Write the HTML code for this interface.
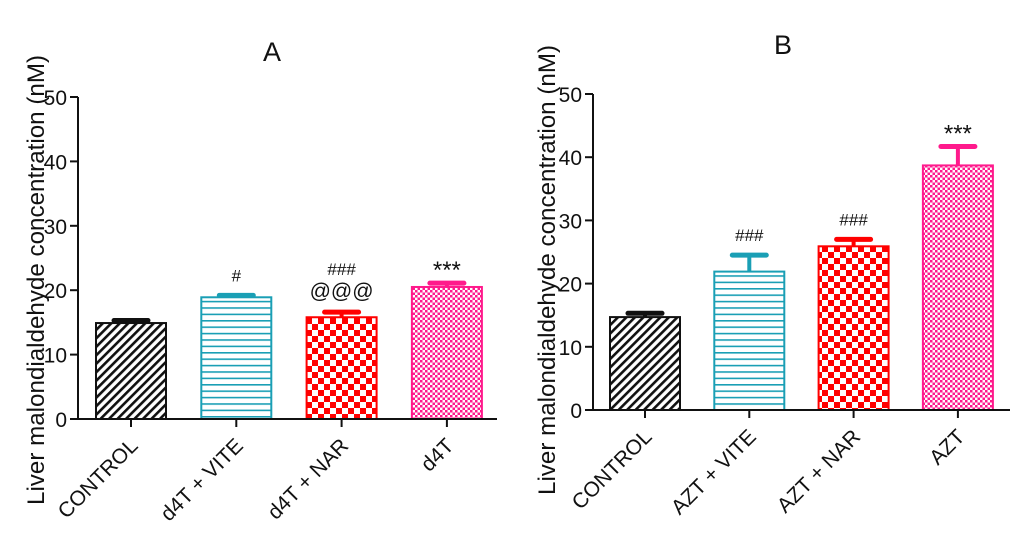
<!DOCTYPE html>
<html><head><meta charset="utf-8"><style>
html,body{margin:0;padding:0;background:#fff;}
svg{display:block;font-family:"Liberation Sans",Arial,sans-serif;}
</style></head><body>
<svg id="chart" width="1024" height="537" viewBox="0 0 1024 537">
<defs>
<pattern id="p-diag" patternUnits="userSpaceOnUse" width="6" height="6" patternTransform="rotate(45)">
<rect width="6" height="6" fill="#fff"/><rect x="0" y="0" width="2.6" height="6" fill="#111"/></pattern>
<pattern id="p-horiz" patternUnits="userSpaceOnUse" width="10" height="6.4">
<rect width="10" height="6.4" fill="#fff"/><rect x="0" y="0" width="10" height="1.6" fill="#1a9fb5"/></pattern>
<pattern id="p-check" patternUnits="userSpaceOnUse" width="12" height="12">
<rect width="12" height="12" fill="#fff"/><rect width="6" height="6" fill="#f00"/><rect x="6" y="6" width="6" height="6" fill="#f00"/></pattern>
<pattern id="p-fine" patternUnits="userSpaceOnUse" width="5" height="5">
<rect width="5" height="5" fill="#fff"/><rect width="2.5" height="2.5" fill="#ff1a8c"/><rect x="2.5" y="2.5" width="2.5" height="2.5" fill="#ff1a8c"/></pattern>
</defs>
</svg>
<script>
const categoriesA = ["CONTROL","d4T + VITE","d4T + NAR","d4T"];
const valuesA = [14.9, 18.9, 15.8, 20.5];
const errorsA = [0.4, 0.3, 0.8, 0.6];
const marksA = ["", "#", "###\n@@@", "***"];
const categoriesB = ["CONTROL","AZT + VITE","AZT + NAR","AZT"];
const valuesB = [14.7, 21.9, 25.9, 38.7];
const errorsB = [0.6, 2.6, 1.1, 3.0];
const marksB = ["", "###", "###", "***"];
const yTicks = [0,10,20,30,40,50];

const NS="http://www.w3.org/2000/svg";
const svg=document.getElementById('chart');
const fills=["url(#p-diag)","url(#p-horiz)","url(#p-check)","url(#p-fine)"];
const strokes=["#111","#1a9fb5","#f00","#ff1a8c"];
function el(tag,attrs,parent){const e=document.createElementNS(NS,tag);for(const k in attrs)e.setAttribute(k,attrs[k]);(parent||svg).appendChild(e);return e;}

function panel(cfg){
  const g=el('g',{});
  
  
  const y=v=>cfg.y0-(v/50)*(cfg.y0-cfg.y50);
  const bw=70, step=cfg.step;
  const xc=i=>cfg.x0+cfg.first+i*step;
  const t=el('text',{x:cfg.titleX,y:cfg.titleY,'font-size':27,'text-anchor':'middle',fill:'#111'},g);
  t.textContent=cfg.title;
  
  
  const yl=el('text',{x:0,y:0,'font-size':24,'text-anchor':'middle',fill:'#111',textLength:450,lengthAdjust:'spacingAndGlyphs',transform:`translate(${cfg.ylX},${cfg.ylY}) rotate(-90)`},g);
  yl.textContent="Liver malondialdehyde concentration (nM)";
  
  
  cfg.values.forEach((v,i)=>{
    const cx=xc(i), top=y(v), et=y(v+cfg.errors[i]);
    const eb=el('line',{x1:cx,x2:cx,y1:top,y2:et,stroke:strokes[i],'stroke-width':4},g);
    
    
    const cap=el('line',{x1:cx-17,x2:cx+17,y1:et,y2:et,stroke:strokes[i],'stroke-width':5,'stroke-linecap':'round'},g);
    
    
    const r=el('rect',{x:cx-bw/2,y:top,width:bw,height:cfg.y0-top,fill:fills[i],stroke:strokes[i],'stroke-width':2},g);
    
    
    const lines=cfg.marks[i].split("\n");
    lines.forEach((m,j)=>{
      if(!m)return;
      const fs=m==="***"?24:(m[0]==="@"?21:17);
      const ty=et-14-(lines.length-1-j)*23;
      const mt=el('text',{x:cx,y:ty+(m==="***"?9:0),'font-size':fs,'text-anchor':'middle',fill:'#111'},g);
      mt.textContent=m;
      
      
    });
    const tk=el('line',{x1:cx,x2:cx,y1:cfg.y0,y2:cfg.y0+8,stroke:'#111','stroke-width':2},g);
    
    
    const lb=el('text',{x:0,y:0,'font-size':21,'text-anchor':'end',fill:'#111',transform:`translate(${cx+8},${cfg.y0+28}) rotate(-45)`},g);
    lb.textContent=cfg.categories[i];
    
    
  });
  const ya=el('line',{x1:cfg.x0,x2:cfg.x0,y1:cfg.y50,y2:cfg.y0+1,stroke:'#111','stroke-width':2},g);
  
  
  const xa=el('line',{x1:cfg.x0-1,x2:cfg.xEnd,y1:cfg.y0,y2:cfg.y0,stroke:'#111','stroke-width':2},g);
  
  
  yTicks.forEach(v=>{
    const ty=y(v);
    const tl=el('line',{x1:cfg.x0-8,x2:cfg.x0,y1:ty,y2:ty,stroke:'#111','stroke-width':2},g);
    
    
    const tt=el('text',{x:cfg.x0-11,y:ty+8,'font-size':21,'text-anchor':'end',fill:'#111'},g);
    tt.textContent=v;
    
    
  });
}
panel({name:'panel-a',title:'A',titleX:272,titleY:61,x0:78,xEnd:497,y0:419,y50:97,first:53,step:105.3,
  ylX:44,ylY:280,categories:categoriesA,values:valuesA,errors:errorsA,marks:marksA});
panel({name:'panel-b',title:'B',titleX:783,titleY:54,x0:593,xEnd:1010,y0:410,y50:94,first:52,step:104.3,
  ylX:555,ylY:270,categories:categoriesB,values:valuesB,errors:errorsB,marks:marksB});
</script>
</body></html>
